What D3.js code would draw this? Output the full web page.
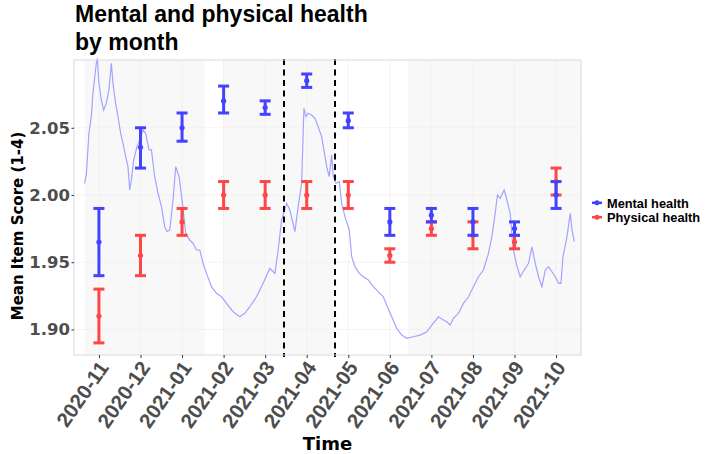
<!DOCTYPE html>
<html>
<head>
<meta charset="utf-8">
<script src="https://cdn.jsdelivr.net/npm/d3@7"></script>
<style>
  body { margin: 0; background: #fff; }
  text { font-family: "DejaVu Sans", sans-serif; font-weight: bold; }
</style>
</head>
<body>
<svg id="chart" width="709" height="454"></svg>
<script>
// month positions on the x axis (evenly spaced, as in the original)
const months = ['2020-11', '2020-12', '2021-01', '2021-02', '2021-03', '2021-04',
                '2021-05', '2021-06', '2021-07', '2021-08', '2021-09', '2021-10'];

// monthly means with error bars
const mentalMean  = [1.965, 2.0355, 2.050, 2.070, 2.065, 2.085, 2.0553, 1.980, 1.985, 1.980, 1.975, 2.000];
const mentalLow   = [1.940, 2.020, 2.040, 2.061, 2.060, 2.080, 2.050, 1.970, 1.980, 1.970, 1.970, 1.990];
const mentalHigh  = [1.990, 2.050, 2.061, 2.081, 2.070, 2.090, 2.061, 1.990, 1.990, 1.990, 1.980, 2.010];
const physMean    = [1.910, 1.955, 1.980, 2.000, 2.000, 2.000, 2.000, 1.955, 1.975, 1.970, 1.965, 2.010];
const physLow     = [1.890, 1.940, 1.970, 1.990, 1.990, 1.990, 1.990, 1.950, 1.970, 1.960, 1.960, 2.000];
const physHigh    = [1.930, 1.970, 1.990, 2.010, 2.010, 2.010, 2.010, 1.960, 1.980, 1.980, 1.970, 2.020];

// daily rolling series (position in months, value)
const lineT = [-0.345, -0.304, -0.241, -0.183, -0.145, -0.063, -0.039, 0, 0.058, 0.113, 0.178, 0.241,
  0.299, 0.337, 0.402, 0.458, 0.523, 0.578, 0.643, 0.699, 0.740, 0.781, 0.836, 0.916, 0.981, 1.060,
  1.125, 1.205, 1.263, 1.342, 1.422, 1.504, 1.583, 1.639, 1.704, 1.783, 1.848, 1.928, 2.010, 2.089,
  2.186, 2.265, 2.347, 2.427, 2.506, 2.588, 2.708, 2.829, 2.949, 3.070, 3.229, 3.390, 3.511, 3.631,
  3.793, 3.952, 4.113, 4.234, 4.313, 4.395, 4.516, 4.595, 4.716, 4.795, 4.877, 4.933, 4.981, 5.036,
  5.118, 5.198, 5.277, 5.359, 5.414, 5.480, 5.542, 5.600, 5.639, 5.704, 5.783, 5.841, 5.920, 6.024,
  6.082, 6.161, 6.265, 6.361, 6.482, 6.602, 6.723, 6.843, 6.940, 7.046, 7.166, 7.287, 7.407, 7.566,
  7.728, 7.889, 8.010, 8.169, 8.289, 8.371, 8.451, 8.530, 8.651, 8.771, 8.892, 9.012, 9.133, 9.253,
  9.373, 9.455, 9.535, 9.590, 9.655, 9.752, 9.817, 9.896, 9.961, 10.041, 10.137, 10.234, 10.337,
  10.419, 10.499, 10.578, 10.660, 10.740, 10.819, 10.901, 10.981, 11.060, 11.118, 11.166, 11.263,
  11.342, 11.383, 11.439];
const lineV = [2.0087, 2.0149, 2.0459, 2.0583, 2.0757, 2.0980, 2.1017, 2.0831, 2.0707, 2.0632, 2.0682,
  2.0781, 2.0980, 2.0831, 2.0682, 2.0583, 2.0459, 2.0385, 2.0285, 2.0211, 2.0037, 2.0112, 2.0260,
  2.0359, 2.0409, 2.0484, 2.0459, 2.0335, 2.0335, 2.0136, 2.0013, 1.9913, 1.9764, 1.9727, 1.9740,
  1.9963, 2.0211, 2.0136, 1.9938, 1.9715, 1.9665, 1.9641, 1.9591, 1.9591, 1.9492, 1.9417, 1.9318,
  1.9269, 1.9243, 1.9194, 1.9132, 1.9094, 1.9120, 1.9169, 1.9243, 1.9343, 1.9455, 1.9417, 1.9591,
  1.9814, 1.9938, 1.9888, 1.9727, 1.9913, 2.0087, 2.0645, 2.0583, 2.0608, 2.0595, 2.0571, 2.0508,
  2.0434, 2.0335, 2.0211, 2.0136, 2.0298, 2.0136, 2.0087, 2.0099, 1.9938, 1.9839, 1.9740, 1.9541,
  1.9467, 1.9417, 1.9392, 1.9368, 1.9318, 1.9281, 1.9243, 1.9169, 1.9094, 1.9008, 1.8958, 1.8934,
  1.8946, 1.8958, 1.8983, 1.9033, 1.9094, 1.9070, 1.9057, 1.9033, 1.9083, 1.9120, 1.9194, 1.9243,
  1.9318, 1.9392, 1.9442, 1.9566, 1.9690, 1.9864, 2.0000, 1.9975, 2.0037, 1.9963, 1.9864, 1.9615,
  1.9492, 1.9392, 1.9442, 1.9492, 1.9615, 1.9492, 1.9392, 1.9318, 1.9442, 1.9467, 1.9429, 1.9392,
  1.9343, 1.9343, 1.9541, 1.9690, 1.9864, 1.9740, 1.9653];

// shaded periods (month positions) and the two marked dates
const shadeStart = [-0.345, 2.99, 7.44];
const shadeEnd   = [2.547, 5.65, 11.6];
const markers    = [4.453, 5.681];

const yTicks = [1.90, 1.95, 2.00, 2.05];
const series = ['Mental health', 'Physical health'];

const colors = { mental: '#4343ff', physical: '#ff4646', line: '#a3a3ff' };

const svg = d3.select('#chart');
const m = { left: 74, right: 581, top: 60, bottom: 355 };
const sans = '"Liberation Sans", Arial, sans-serif';

const x = d3.scaleLinear().domain([-0.6, 11.6]).range([m.left, m.right]);
const y = d3.scaleLinear().domain([1.881, 2.1004]).range([m.bottom, m.top]);

// title
svg.append('text')
   .attr('x', 75).attr('y', 22)
   .style('font-family', sans)
   .style('font-size', '23px')
   .text('Mental and physical health');
svg.append('text')
   .attr('x', 75).attr('y', 49.5)
   .style('font-family', sans)
   .style('font-size', '23px')
   .text('by month');

// panel background shading
svg.append('g').selectAll('rect')
   .data(shadeStart)
   .join('rect')
   .attr('x', (d) => x(d))
   .attr('y', m.top)
   .attr('width', (d, i) => x(shadeEnd[i]) - x(d))
   .attr('height', m.bottom - m.top)
   .attr('fill', '#f8f8f8');

// grid
let grid = svg.append('g').attr('stroke', '#ececec').attr('stroke-width', 0.6);
grid.selectAll('.hg')
   .data(yTicks)
   .join('line')
   .attr('x1', m.left).attr('x2', m.right)
   .attr('y1', (d) => y(d)).attr('y2', (d) => y(d));
grid.selectAll('.vg')
   .data(months)
   .join('line')
   .attr('x1', (d, i) => x(i)).attr('x2', (d, i) => x(i))
   .attr('y1', m.top).attr('y2', m.bottom);

// daily line
const line = d3.line()
   .x((d) => x(d[0]))
   .y((d) => y(d[1]));
svg.append('path')
   .datum(lineT.map((t, i) => [t, lineV[i]]))
   .attr('d', line)
   .attr('fill', 'none')
   .attr('stroke', colors.line)
   .attr('stroke-width', 1.2);

// error bars: physical first, mental on top
function errorBars(mean, low, high, color) {
   let g = svg.append('g')
      .attr('stroke', color)
      .attr('stroke-width', 3)
      .attr('fill', color);
   let cap = 5.5;
   g.selectAll('.v')
      .data(mean)
      .join('line')
      .attr('x1', (d, i) => x(i)).attr('x2', (d, i) => x(i))
      .attr('y1', (d, i) => y(low[i])).attr('y2', (d, i) => y(high[i]));
   g.selectAll('.lo')
      .data(low)
      .join('line')
      .attr('x1', (d, i) => x(i) - cap).attr('x2', (d, i) => x(i) + cap)
      .attr('y1', (d) => y(d)).attr('y2', (d) => y(d));
   g.selectAll('.hi')
      .data(high)
      .join('line')
      .attr('x1', (d, i) => x(i) - cap).attr('x2', (d, i) => x(i) + cap)
      .attr('y1', (d) => y(d)).attr('y2', (d) => y(d));
   g.selectAll('circle')
      .data(mean)
      .join('circle')
      .attr('cx', (d, i) => x(i))
      .attr('cy', (d) => y(d))
      .attr('r', 2.6)
      .attr('stroke', 'none');
}
errorBars(physMean, physLow, physHigh, colors.physical);
errorBars(mentalMean, mentalLow, mentalHigh, colors.mental);

// dashed vertical markers
svg.append('g').selectAll('line')
   .data(markers)
   .join('line')
   .attr('x1', (d) => x(d)).attr('x2', (d) => x(d))
   .attr('y1', 59).attr('y2', 357)
   .attr('stroke', '#000')
   .attr('stroke-width', 2)
   .attr('stroke-dasharray', '6,4.5');

// panel border
svg.append('rect')
   .attr('x', m.left).attr('y', m.top)
   .attr('width', m.right - m.left).attr('height', m.bottom - m.top)
   .attr('fill', 'none')
   .attr('stroke', '#d9d9d9')
   .attr('stroke-width', 1);

// y axis
const yAxis = svg.append('g')
   .attr('transform', `translate(${m.left},0)`)
   .call(d3.axisLeft(y).tickValues(yTicks).tickSize(2.5).tickPadding(1.5).tickFormat(d3.format('.2f')));
yAxis.select('.domain').remove();
yAxis.selectAll('line').attr('stroke', '#333');
yAxis.selectAll('text')
   .attr('fill', '#4d4d4d')
   .style('font-size', '16.5px')
   .style('font-family', '"DejaVu Sans", sans-serif');

// x axis
const xAxis = svg.append('g')
   .attr('transform', `translate(0,${m.bottom})`)
   .call(d3.axisBottom(x).tickValues(d3.range(months.length)).tickSize(3).tickFormat((i) => months[i]));
xAxis.select('.domain').remove();
xAxis.selectAll('line').attr('stroke', '#333');
xAxis.selectAll('text')
   .attr('fill', '#4d4d4d')
   .style('font-size', '20.5px')
   .style('font-family', sans)
   .attr('text-anchor', 'end')
   .attr('y', 0)
   .attr('dy', '0.66em')
   .attr('transform', 'translate(-1,5) rotate(-55)');

// axis titles
svg.append('text')
   .attr('x', (m.left + m.right) / 2).attr('y', 450)
   .attr('text-anchor', 'middle')
   .style('font-size', '18px')
   .text('Time');
svg.append('text')
   .attr('transform', 'translate(23,226) rotate(-90)')
   .attr('text-anchor', 'middle')
   .style('font-size', '15px')
   .text('Mean Item Score (1-4)');

// legend
const legend = svg.append('g');
const keyY = [202.8, 217.2];
const keyColors = [colors.mental, colors.physical];
legend.selectAll('line')
   .data(series)
   .join('line')
   .attr('x1', 592).attr('x2', 602)
   .attr('y1', (d, i) => keyY[i]).attr('y2', (d, i) => keyY[i])
   .attr('stroke', (d, i) => keyColors[i])
   .attr('stroke-width', 2.5);
legend.selectAll('circle')
   .data(series)
   .join('circle')
   .attr('cx', 597).attr('cy', (d, i) => keyY[i])
   .attr('r', 2.5)
   .attr('fill', (d, i) => keyColors[i]);
legend.selectAll('text')
   .data(series)
   .join('text')
   .attr('x', 607).attr('y', (d, i) => keyY[i] + 4.7)
   .style('font-family', sans)
   .style('font-size', '12.8px')
   .text((d) => d);
</script>
</body>
</html>
